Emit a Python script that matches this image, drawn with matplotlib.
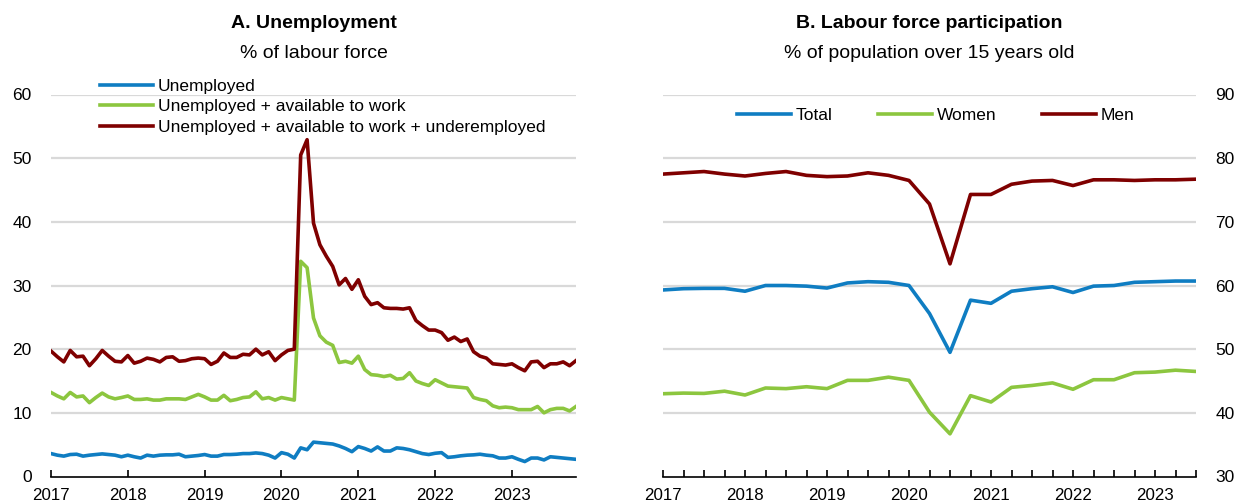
import matplotlib
matplotlib.use("Agg")
import matplotlib.pyplot as plt
import numpy as np

plt.rcParams['font.family'] = ['Liberation Sans', 'DejaVu Sans']

# Panel A: monthly, Jan 2017 - Nov 2023
unemployed = [
    3.6, 3.35, 3.2, 3.45, 3.5, 3.2, 3.35, 3.45, 3.55, 3.45, 3.35, 3.1,
    3.35, 3.1, 2.9, 3.35, 3.2, 3.35, 3.4, 3.4, 3.5, 3.1, 3.2, 3.3,
    3.45, 3.2, 3.2, 3.45, 3.45, 3.5, 3.6, 3.6, 3.7, 3.6, 3.35, 2.9,
    3.75, 3.5, 2.9, 4.5, 4.2, 5.4, 5.3, 5.2, 5.1, 4.8, 4.4, 3.9,
    4.7, 4.4, 4.0, 4.65, 4.0, 4.0, 4.5, 4.4, 4.2, 3.9, 3.6, 3.45,
    3.65, 3.75, 3.0, 3.1, 3.25, 3.35, 3.4, 3.5, 3.35, 3.25, 2.9, 2.9,
    3.1, 2.7, 2.35, 2.9, 2.9, 2.6, 3.1, 3.0, 2.9, 2.8, 2.7,
]
unemp_available = [
    13.2, 12.65, 12.2, 13.2, 12.5, 12.65, 11.6, 12.4, 13.1, 12.5, 12.2, 12.4,
    12.65, 12.1, 12.1, 12.2, 12.0, 12.0, 12.2, 12.2, 12.2, 12.1, 12.5, 12.9,
    12.5, 12.0, 12.0, 12.75, 11.9, 12.1, 12.4, 12.5, 13.3, 12.2, 12.4, 12.0,
    12.4, 12.2, 12.0, 33.8, 32.8, 24.9, 22.1, 21.1, 20.6, 17.9, 18.1, 17.8,
    18.9, 16.8, 16.0, 15.9, 15.7, 15.9, 15.3, 15.4, 16.3, 15.0, 14.6, 14.3,
    15.2, 14.7, 14.2, 14.1, 14.0, 13.9, 12.4, 12.1, 11.9, 11.1, 10.8, 10.9,
    10.8, 10.5, 10.5, 10.5, 11.0, 10.0, 10.5, 10.7, 10.7, 10.3, 11.0,
]
unemp_avail_under = [
    19.7, 18.8, 18.0, 19.8, 18.8, 18.9, 17.4, 18.5, 19.8, 18.9, 18.1, 18.0,
    19.0, 17.8, 18.1, 18.6, 18.4, 18.0, 18.7, 18.8, 18.1, 18.2, 18.5, 18.6,
    18.5, 17.6, 18.1, 19.4, 18.7, 18.7, 19.2, 19.1, 20.0, 19.1, 19.6, 18.2,
    19.1, 19.8, 20.0, 50.5, 52.9, 39.8, 36.4, 34.6, 33.0, 30.1, 31.1, 29.4,
    30.9, 28.3, 27.0, 27.3, 26.5, 26.4, 26.4, 26.3, 26.5, 24.5, 23.7, 23.0,
    23.0, 22.6, 21.4, 21.9, 21.2, 21.6, 19.6, 18.9, 18.6, 17.7, 17.6, 17.5,
    17.7, 17.1, 16.6, 18.0, 18.1, 17.1, 17.7, 17.7, 18.0, 17.4, 18.2,
]

# Panel B: quarterly, 2017Q1 - 2023Q3
total = [
    59.3, 59.5, 59.55, 59.55, 59.1, 60.0, 60.0, 59.9, 59.6, 60.4, 60.6, 60.5,
    60.0, 55.6, 49.5, 57.7, 57.2, 59.1, 59.5, 59.8, 58.9, 59.9, 60.0, 60.5,
    60.6, 60.7, 60.7,
]
women = [
    43.0, 43.1, 43.05, 43.4, 42.8, 43.9, 43.8, 44.1, 43.8, 45.1, 45.1, 45.6,
    45.1, 40.1, 36.7, 42.7, 41.7, 44.0, 44.3, 44.7, 43.7, 45.2, 45.2, 46.3,
    46.4, 46.7, 46.5,
]
men = [
    77.5, 77.7, 77.9, 77.5, 77.2, 77.6, 77.9, 77.3, 77.1, 77.2, 77.7, 77.3,
    76.5, 72.8, 63.4, 74.3, 74.3, 75.9, 76.4, 76.5, 75.7, 76.6, 76.6, 76.5,
    76.6, 76.6, 76.7,
]
years = [2017, 2018, 2019, 2020, 2021, 2022, 2023]

BLUE = '#0F7DC2'
GREEN = '#8CC63F'
RED = '#7F0000'
GRID = '#D9D9D9'

fig = plt.figure(figsize=(12.37, 5.03), dpi=100)
W, H = 1237, 503
top, bot = 94.5, 476.5
axA = fig.add_axes([51 / W, 1 - bot / H, 525 / W, (bot - top) / H])
axB = fig.add_axes([663 / W, 1 - bot / H, 533 / W, (bot - top) / H])

FS = 12.5


def style(ax, ylo, yhi):
    ax.set_ylim(ylo, yhi)
    ax.set_yticks(np.arange(ylo, yhi + 1, 10))
    for v in range(ylo + 10, yhi + 1, 10):
        ax.axhline(v, color=GRID, lw=1.6, zorder=0)
    for s in ['top', 'left', 'right']:
        ax.spines[s].set_visible(False)
    ax.spines['bottom'].set_linewidth(1.2)
    ax.spines['bottom'].set_zorder(5)
    ax.tick_params(axis='x', direction='in', length=5, width=1.2, pad=8, labelsize=12.2)
    ax.tick_params(axis='y', length=0, labelsize=12.5)
    ax.set_xticks(years)
    ax.set_xticklabels([str(y) for y in years])


# Panel A
xm = 2017 + np.arange(len(unemployed)) / 12
axA.plot(xm, unemployed, color=BLUE, lw=2.6, label='Unemployed')
axA.plot(xm, unemp_available, color=GREEN, lw=2.6, label='Unemployed + available to work')
axA.plot(xm, unemp_avail_under, color=RED, lw=2.6,
         label='Unemployed + available to work + underemployed')
style(axA, 0, 60)
axA.set_xlim(xm[0], xm[-1])
axA.tick_params(axis='y', pad=14)
axA.legend(loc='center left', bbox_to_anchor=(0.093, 0.968), frameon=False,
           fontsize=FS, handlelength=3.05, handletextpad=0.3, labelspacing=0.3,
           borderpad=0, borderaxespad=0)

# Panel B
xq = 2017 + np.arange(len(total)) / 4
axB.plot(xq, total, color=BLUE, lw=2.6, label='Total')
axB.plot(xq, women, color=GREEN, lw=2.6, label='Women')
axB.plot(xq, men, color=RED, lw=2.6, label='Men')
style(axB, 30, 90)
axB.set_xlim(xq[0], xq[-1])
axB.set_xticks(xq, minor=True)
axB.tick_params(axis='x', which='minor', direction='in', length=5, width=1.2)
axB.yaxis.tick_right()
axB.tick_params(axis='y', pad=14)
axB.legend(loc='center', bbox_to_anchor=(0.512, 0.9445), ncol=3, frameon=False,
           fontsize=FS, handlelength=3.1, handletextpad=0.3, columnspacing=2.6,
           borderpad=0, borderaxespad=0)

# titles
for cx, t1, t2 in [(313.5, 'A. Unemployment', '% of labour force'),
                   (929.5, 'B. Labour force participation', '% of population over 15 years old')]:
    fig.text(cx / W, 1 - 24 / H, t1, ha='center', va='center', fontsize=14, fontweight='bold')
    fig.text(cx / W, 1 - 54 / H, t2, ha='center', va='center', fontsize=14)

fig.savefig('out.png', dpi=100)
